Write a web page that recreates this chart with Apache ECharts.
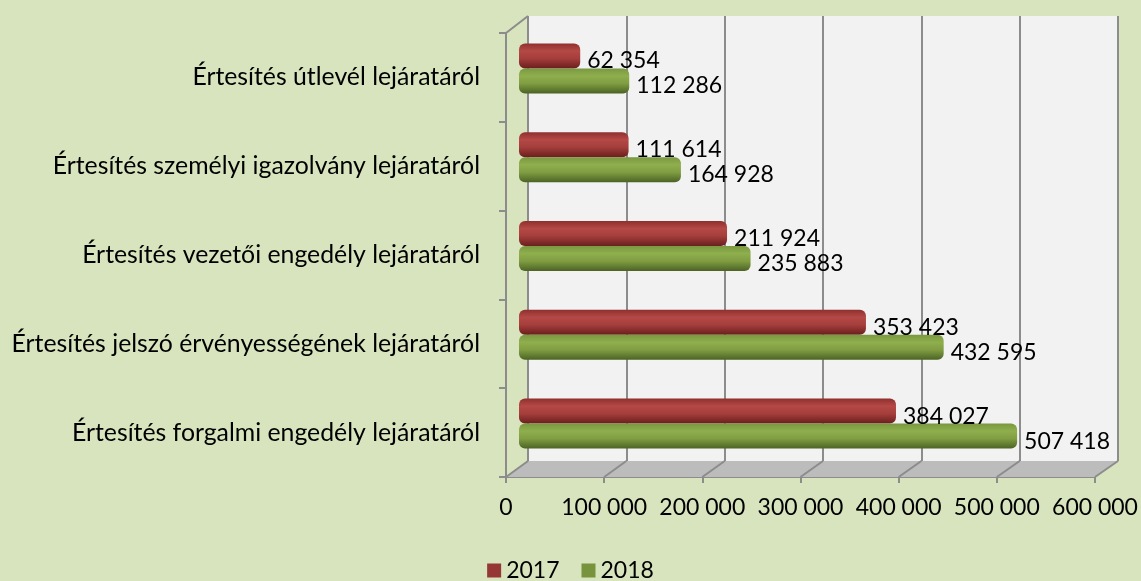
<!DOCTYPE html>
<html>
<head>
<meta charset="utf-8">
<script src="https://cdn.jsdelivr.net/npm/echarts@6/dist/echarts.min.js"></script>
<style>
  html, body { margin: 0; padding: 0; background: #d8e4bd; }
  #chart { width: 1141px; height: 581px; }
</style>
</head>
<body>
<div id="chart"></div>
<script>
// adatok
var categories = [
  'Értesítés útlevél lejáratáról',
  'Értesítés személyi igazolvány lejáratáról',
  'Értesítés vezetői engedély lejáratáról',
  'Értesítés jelszó érvényességének lejáratáról',
  'Értesítés forgalmi engedély lejáratáról'
];
var values2017 = [62354, 111614, 211924, 353423, 384027];
var values2018 = [112286, 164928, 235883, 432595, 507418];
var xTicks = [0, 100000, 200000, 300000, 400000, 500000, 600000];

var font = 'Lato, "Noto Sans", sans-serif';

function fmt(v) {
  return String(v).replace(/\B(?=(\d{3})+(?!\d))/g, ' ');
}

function cyl(c0, c1, c2, c3) {
  return new echarts.graphic.LinearGradient(0, 0, 0, 1, [
    { offset: 0, color: c0 },
    { offset: 0.3, color: c1 },
    { offset: 0.6, color: c2 },
    { offset: 1, color: c3 }
  ]);
}

var chart = echarts.init(document.getElementById('chart'));

var labelCfg = {
  show: true,
  position: 'right',
  distance: 7,
  offset: [0, 5],
  color: '#000',
  fontSize: 23,
  fontFamily: font,
  formatter: function (p) { return fmt(p.value); }
};

chart.setOption({
  backgroundColor: '#d8e4bd',
  animation: false,
  textStyle: { fontFamily: font },
  grid: [
    // hátsó fal
    { left: 528, top: 16, width: 590, height: 445, show: true, backgroundColor: '#f2f2f2', borderWidth: 0 },
    // oszlopok
    { left: 519, top: 24, width: 589, height: 444 },
    // első tengelyek
    { left: 506, top: 33, width: 589, height: 444 }
  ],
  xAxis: [
    {
      gridIndex: 0, type: 'value', min: 0, max: 600000, interval: 100000,
      axisLine: { show: false }, axisTick: { show: false }, axisLabel: { show: false },
      splitLine: { show: true, lineStyle: { color: '#8c8c8c', width: 2 } }
    },
    {
      gridIndex: 1, type: 'value', min: 0, max: 600000, interval: 100000,
      axisLine: { show: false }, axisTick: { show: false }, axisLabel: { show: false },
      splitLine: { show: false }
    },
    {
      gridIndex: 2, type: 'value', min: 0, max: 600000, interval: 100000,
      axisLine: { show: true, lineStyle: { color: '#8c8c8c', width: 2 } },
      axisTick: { show: true, length: 6, lineStyle: { color: '#8c8c8c', width: 2 } },
      axisLabel: {
        color: '#000', fontSize: 23, fontFamily: font, margin: 19,
        formatter: function (v) { return fmt(v); }
      },
      splitLine: { show: false }
    }
  ],
  yAxis: [
    {
      gridIndex: 0, type: 'category', data: categories, inverse: true,
      axisLine: { show: false }, axisTick: { show: false }, axisLabel: { show: false }
    },
    {
      gridIndex: 1, type: 'category', data: categories, inverse: true,
      axisLine: { show: false }, axisTick: { show: false }, axisLabel: { show: false }
    },
    {
      gridIndex: 2, type: 'category', data: categories, inverse: true,
      axisLine: { show: true, lineStyle: { color: '#8c8c8c', width: 2 } },
      axisTick: { show: true, length: 7, lineStyle: { color: '#8c8c8c', width: 2 } },
      axisLabel: { color: '#000', fontSize: 24.8, fontFamily: font, margin: 26 }
    }
  ],
  legend: {
    top: 554,
    left: 'center',
    icon: 'rect',
    itemWidth: 14,
    itemHeight: 14,
    itemGap: 22,
    textStyle: { color: '#000', fontSize: 23, fontFamily: font },
    data: [
      { name: '2017', itemStyle: { color: '#953735' } },
      { name: '2018', itemStyle: { color: '#77933c' } }
    ]
  },
  series: [
    {
      name: '2017', type: 'bar', xAxisIndex: 1, yAxisIndex: 1,
      data: values2017, barWidth: 25, barGap: '0%', z: 5,
      itemStyle: {
        color: cyl('#8f302e', '#b44946', '#a53e3c', '#6a1f1d'),
        borderRadius: [6, 6, 6, 6]
      },
      label: labelCfg
    },
    {
      name: '2018', type: 'bar', xAxisIndex: 1, yAxisIndex: 1,
      data: values2018, barWidth: 25, barGap: '0%', z: 5,
      itemStyle: {
        color: cyl('#7a9840', '#8fae4d', '#809e42', '#4c6325'),
        borderRadius: [6, 6, 6, 6]
      },
      label: labelCfg
    }
  ]
});

// 3D padló és átlós vonalak a két tengely pixelpozíciói alapján
var graphics = [];
var back = xTicks.map(function (t) { return chart.convertToPixel({ xAxisIndex: 0 }, t); });
var front = xTicks.map(function (t) { return chart.convertToPixel({ xAxisIndex: 2 }, t); });
var backBottom = 461, backTop = 16, frontBottom = 477, frontTop = 33;
graphics.push({
  type: 'polygon', z: 1,
  shape: { points: [[front[0], frontBottom], [front[front.length - 1], frontBottom], [back[back.length - 1], backBottom], [back[0], backBottom]] },
  style: { fill: '#bcbcbc' }
});
xTicks.forEach(function (t, i) {
  graphics.push({
    type: 'line', z: 2,
    shape: { x1: front[i], y1: frontBottom, x2: back[i], y2: backBottom },
    style: { stroke: '#8c8c8c', lineWidth: 2 }
  });
});
graphics.push({
  type: 'line', z: 2,
  shape: { x1: front[0], y1: frontTop, x2: back[0], y2: backTop },
  style: { stroke: '#8c8c8c', lineWidth: 2 }
});
chart.setOption({ graphic: graphics });
</script>
</body>
</html>
